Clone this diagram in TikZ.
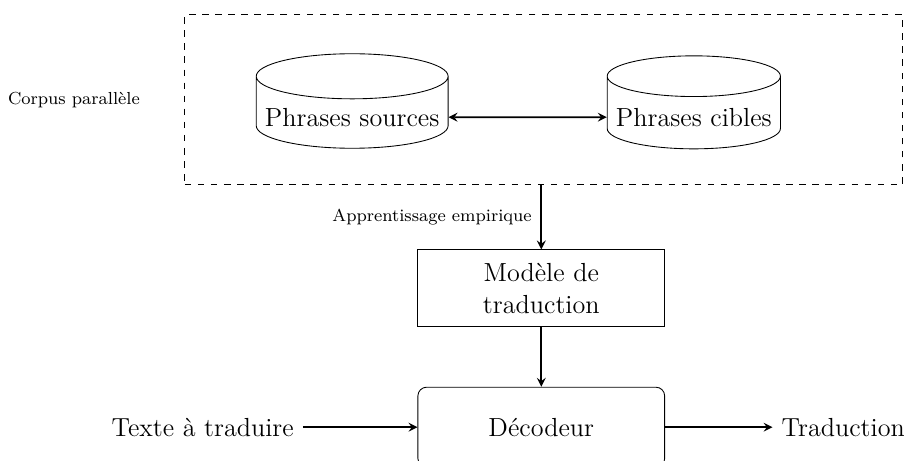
\documentclass[tikz,border=0pt,12pt]{standalone}
\usepackage{tikz}
\usetikzlibrary{positioning,calc,shapes.geometric,arrows}

\tikzset{
  base/.style={cylinder,shape border rotate=90,draw,aspect=0.235,minimum height=1.5cm},
  bloc/.style={draw,text width=3.4cm,align=center,minimum width=3.98cm},
  fleche/.style={->,>=stealth,thick}
}

\begin{document}
\begin{tikzpicture}
\useasboundingbox (0,0) rectangle (14.58,-7.42);
\node[draw,dashed,minimum width=11.58cm,minimum height=2.74cm,label={[label distance=0.57cm,font=\scriptsize]left:Corpus parallèle}] (corpus) at (8.77,-1.61) {};
\node[base] (src) at (5.68,-1.89) {Phrases sources};
\node[base] (cib) at (11.19,-1.89) {Phrases cibles};
\draw[fleche,<->] (src) -- (cib);

\node[bloc,minimum height=1.24cm] (modele) at (8.73,-4.65) {Modèle de traduction};
\draw[fleche] (corpus.south -| modele.north) -- node[left,font=\scriptsize] {Apprentissage empirique} (modele.north);

\node[bloc,rounded corners,minimum height=1.29cm] (decodeur) at (8.73,-6.89) {Décodeur};
\draw[fleche] (modele) -- (decodeur);

\node (texte) at (3.27,-6.89) {Texte à traduire};
\node (trad) at (13.6,-6.89) {Traduction};
\draw[fleche] (texte) -- (decodeur);
\draw[fleche] (decodeur) -- (trad);
\end{tikzpicture}
\end{document}
